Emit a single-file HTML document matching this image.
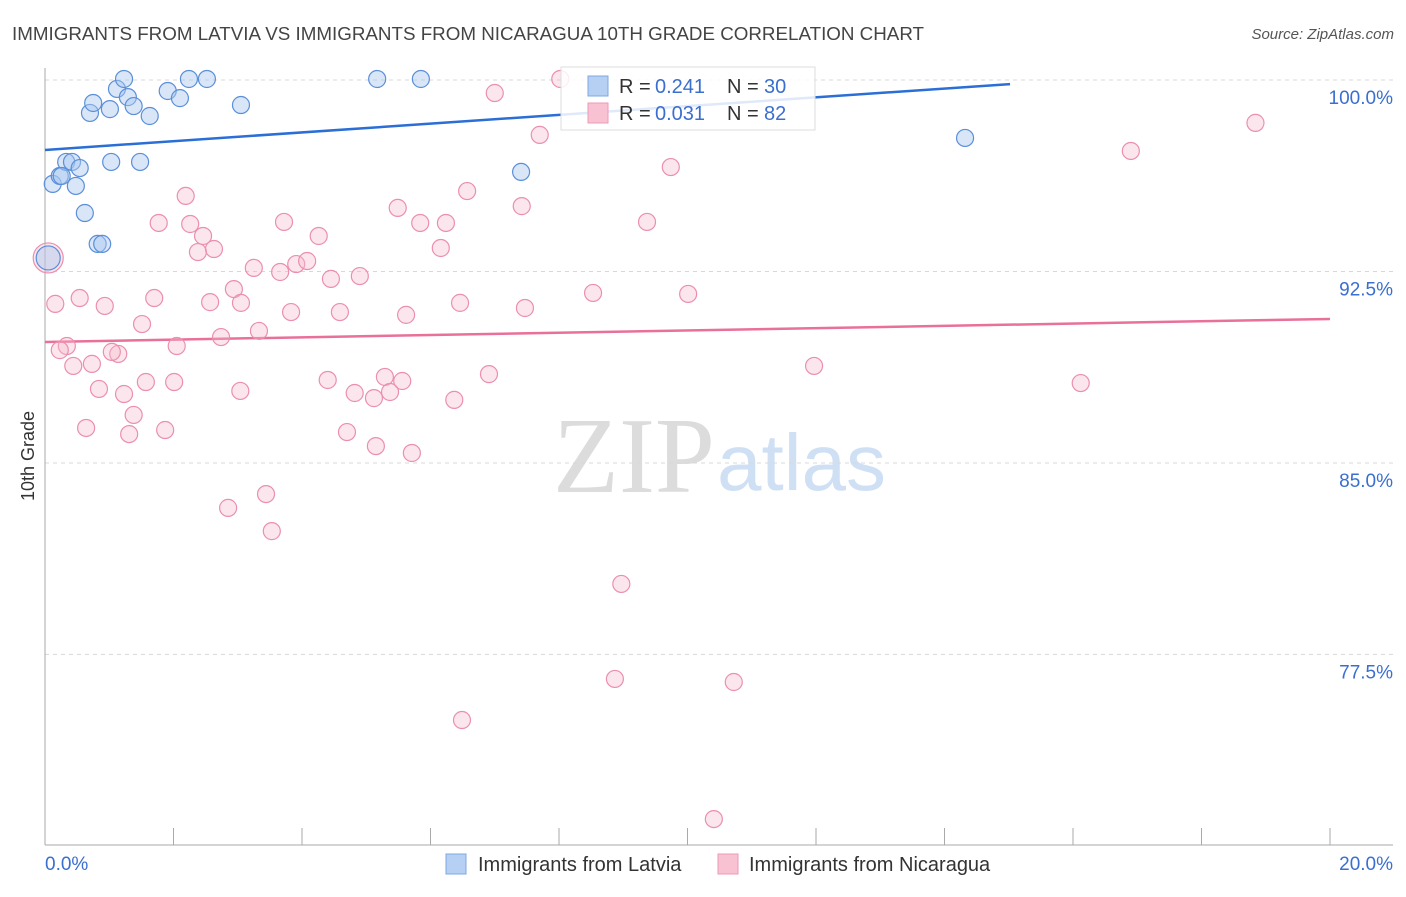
<!DOCTYPE html>
<html><head><meta charset="utf-8"><style>
body{margin:0;background:#fff;font-family:"Liberation Sans",sans-serif;}
svg text{font-family:"Liberation Sans",sans-serif;}
</style></head><body>
<svg id="chart" width="1406" height="892" viewBox="0 0 1406 892">
<text x="12" y="40" font-size="18.8" fill="#444">IMMIGRANTS FROM LATVIA VS IMMIGRANTS FROM NICARAGUA 10TH GRADE CORRELATION CHART</text>
<text x="1394" y="39" font-size="15" fill="#555" font-style="italic" text-anchor="end">Source: ZipAtlas.com</text>
<text transform="translate(34,456) rotate(-90)" font-size="18" fill="#333" text-anchor="middle">10th Grade</text>
<g>
<text x="553" y="492" font-size="108" fill="#dcdcdc" style="font-family:'Liberation Serif',serif">ZIP</text>
<text x="717" y="490" font-size="80" fill="#cfe0f5">atlas</text>
</g>
<g id="grid"></g><g id="axes"></g><g id="trend"></g><g id="pts"></g>
<g>
<rect x="561" y="67" width="254" height="63" fill="#fff" fill-opacity="0.85" stroke="#ddd"/>
<rect x="588" y="76" width="20" height="20" fill="#b6d0f3" stroke="#7ea8e2"/>
<rect x="588" y="103" width="20" height="20" fill="#f8c2d2" stroke="#ec9ab4"/>
<text x="619" y="93" font-size="20" fill="#333">R =</text>
<text x="655" y="93" font-size="20" fill="#3a6fd0">0.241</text>
<text x="727" y="93" font-size="20" fill="#333">N =</text>
<text x="764" y="93" font-size="20" fill="#3a6fd0">30</text>
<text x="619" y="120" font-size="20" fill="#333">R =</text>
<text x="655" y="120" font-size="20" fill="#3a6fd0">0.031</text>
<text x="727" y="120" font-size="20" fill="#333">N =</text>
<text x="764" y="120" font-size="20" fill="#3a6fd0">82</text>
</g>
<g>
<rect x="446" y="854" width="20" height="20" fill="#b6d0f3" stroke="#7ea8e2"/>
<text x="478" y="871" font-size="20" fill="#333">Immigrants from Latvia</text>
<rect x="718" y="854" width="20" height="20" fill="#f8c2d2" stroke="#ec9ab4"/>
<text x="749" y="871" font-size="20" fill="#333">Immigrants from Nicaragua</text>
</g>
</svg>
<script>
const yTicks=[100,92.5,85,77.5];
const yTickLabels=["100.0%","92.5%","85.0%","77.5%"];
const xLabels=["0.0%","20.0%"];
const latviaX=[0.12,0.23,0.33,0.42,0.54,0.48,0.62,0.70,0.75,1.01,1.12,1.23,1.29,1.38,1.63,1.03,1.48,1.91,2.10,2.24,2.52,3.05,5.17,5.85,7.41,14.32,0.82,0.89,0.05,0.26];
const latviaY=[95.93,96.24,96.79,96.79,96.55,95.85,94.79,98.71,99.10,98.86,99.65,100.04,99.33,98.98,98.59,96.79,96.79,99.57,99.29,100.04,100.04,99.02,100.04,100.04,96.40,97.73,93.58,93.58,93.03,96.24];
const nicX=[0.16,0.54,0.93,0.34,0.23,0.44,0.73,0.84,0.64,1.14,1.04,1.23,1.38,1.31,1.51,1.70,1.57,1.77,1.87,2.01,2.05,2.19,2.26,2.38,2.46,2.57,2.63,2.74,2.85,2.94,3.05,3.04,3.25,3.33,3.44,3.53,3.66,3.72,3.83,3.91,4.08,4.26,4.45,4.40,4.59,4.70,4.82,4.90,5.12,5.15,5.29,5.37,5.49,5.56,5.62,5.71,5.84,6.16,6.24,6.37,6.46,6.57,6.91,6.49,7.00,7.42,7.47,7.70,8.02,8.53,8.87,8.97,9.37,9.74,10.01,10.41,10.72,11.97,16.12,16.90,18.84,0.05];
const nicY=[91.23,91.46,91.15,89.58,89.42,88.80,88.88,87.90,86.37,89.27,89.35,87.70,86.88,86.13,90.44,91.46,88.17,94.40,86.29,88.17,89.58,95.46,94.36,93.26,93.89,91.30,93.38,89.93,83.24,91.81,91.27,87.82,92.64,90.17,83.78,82.33,92.48,94.44,90.91,92.79,92.91,93.89,92.21,88.25,90.91,86.21,87.74,92.32,87.54,85.66,88.37,87.78,94.99,88.21,90.80,85.39,94.40,93.42,94.40,87.47,91.27,95.65,88.48,74.93,99.49,95.06,91.07,97.85,100.04,91.66,76.54,80.26,94.44,96.59,91.62,71.05,76.42,88.80,88.13,97.22,98.32,93.03];
const latviaTrend=[0,97.26,15.02,99.84];
const nicTrend=[0,89.74,20,90.64];
const NS="http://www.w3.org/2000/svg";
const X=v=>45+v*64.25, Y=v=>80+(100-v)*25.53;
function mk(tag,attrs,parent){const e=document.createElementNS(NS,tag);for(const k in attrs)e.setAttribute(k,attrs[k]);parent.appendChild(e);return e;}
const grid=document.getElementById('grid'),axes=document.getElementById('axes'),trend=document.getElementById('trend'),pts=document.getElementById('pts');
yTicks.forEach((t,i)=>{
 const l=mk('line',{x1:45,x2:1393,y1:Y(t),y2:Y(t),stroke:'#d8d8d8','stroke-dasharray':'4,4'},grid);
 
 
 const tx=mk('text',{x:1393,y:Y(t)+24,'font-size':19,fill:'#3a6fd0','text-anchor':'end'},axes);
 tx.textContent=yTickLabels[i];
 
 
});
const ya=mk('line',{x1:45,x2:45,y1:68,y2:845,stroke:'#aaa'},axes);


const xa=mk('line',{x1:45,x2:1393,y1:845,y2:845,stroke:'#aaa'},axes);


for(let i=0;i<=10;i++){const t=mk('line',{x1:X(i*2),x2:X(i*2),y1:828,y2:845,stroke:'#aaa'},axes);
 
 }
const xl0=mk('text',{x:45,y:870,'font-size':19,fill:'#3a6fd0'},axes);xl0.textContent=xLabels[0];


const xl1=mk('text',{x:1393,y:870,'font-size':19,fill:'#3a6fd0','text-anchor':'end'},axes);xl1.textContent=xLabels[1];


nicX.forEach((x,i)=>{const big=(i===nicX.length-1);
 const c=mk('circle',{cx:X(x),cy:Y(nicY[i]),r:big?15:8.5,fill:'#f7b6ca','fill-opacity':0.35,stroke:'#eb8fae','stroke-width':1.2},pts);
 
 });
latviaX.forEach((x,i)=>{const big=(i===28);
 const c=mk('circle',{cx:X(x),cy:Y(latviaY[i]),r:big?12:8.5,fill:'#a9c8f0','fill-opacity':0.45,stroke:'#5b8fd9','stroke-width':1.2},pts);
 
 });
const t1=mk('line',{x1:X(latviaTrend[0]),y1:Y(latviaTrend[1]),x2:X(latviaTrend[2]),y2:Y(latviaTrend[3]),stroke:'#2b6fd6','stroke-width':2.5},trend);


const t2=mk('line',{x1:X(nicTrend[0]),y1:Y(nicTrend[1]),x2:X(nicTrend[2]),y2:Y(nicTrend[3]),stroke:'#e8709a','stroke-width':2.5},trend);


</script>
</body></html>
